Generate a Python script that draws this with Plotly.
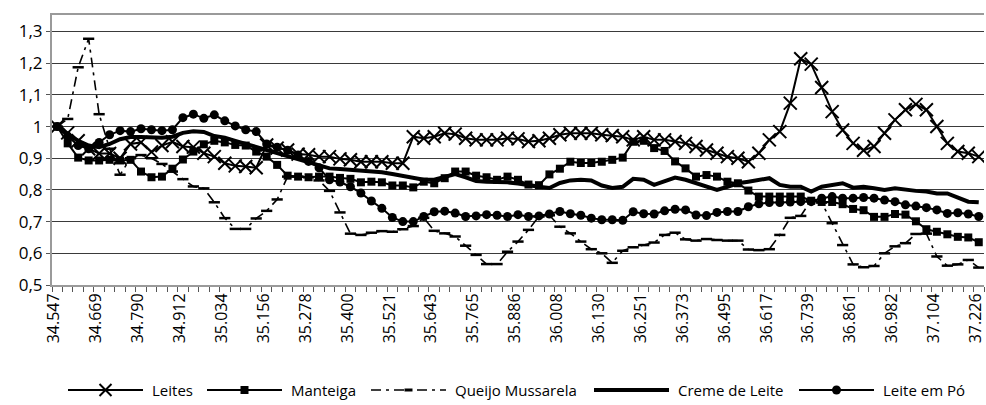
import plotly.graph_objects as go

tick_labels = ["34.547", "34.669", "34.790", "34.912", "35.034", "35.156", "35.278", "35.400",
               "35.521", "35.643", "35.765", "35.886", "36.008", "36.130", "36.251", "36.373",
               "36.495", "36.617", "36.739", "36.861", "36.982", "37.104", "37.226"]

leites = [1.000, 0.980, 0.955, 0.930, 0.915, 0.915, 0.900, 0.945, 0.950, 0.920,
          0.940, 0.952, 0.937, 0.935, 0.916, 0.905, 0.884, 0.876, 0.874, 0.870,
          0.942, 0.932, 0.926, 0.913, 0.911, 0.905, 0.905, 0.898, 0.895, 0.889,
          0.889, 0.889, 0.884, 0.884, 0.968, 0.963, 0.968, 0.979, 0.976, 0.963,
          0.958, 0.958, 0.958, 0.963, 0.961, 0.953, 0.955, 0.963, 0.974, 0.979,
          0.979, 0.979, 0.974, 0.972, 0.968, 0.958, 0.968, 0.958, 0.958, 0.953,
          0.947, 0.937, 0.926, 0.916, 0.905, 0.900, 0.889, 0.916, 0.958, 0.984,
          1.074, 1.214, 1.197, 1.123, 1.047, 0.989, 0.947, 0.925, 0.937, 0.979,
          1.021, 1.053, 1.070, 1.053, 1.000, 0.947, 0.921, 0.916, 0.905]

manteiga = [1.000, 0.947, 0.902, 0.893, 0.893, 0.895, 0.893, 0.895, 0.858, 0.840,
            0.842, 0.867, 0.896, 0.921, 0.944, 0.955, 0.950, 0.942, 0.940, 0.921,
            0.905, 0.879, 0.845, 0.842, 0.840, 0.842, 0.842, 0.838, 0.835, 0.824,
            0.826, 0.824, 0.814, 0.814, 0.808, 0.826, 0.821, 0.837, 0.858, 0.858,
            0.845, 0.840, 0.832, 0.842, 0.832, 0.817, 0.815, 0.849, 0.867, 0.889,
            0.885, 0.885, 0.889, 0.895, 0.902, 0.952, 0.955, 0.932, 0.923, 0.890,
            0.868, 0.842, 0.847, 0.842, 0.826, 0.821, 0.798, 0.779, 0.779, 0.779,
            0.779, 0.779, 0.766, 0.762, 0.762, 0.755, 0.740, 0.736, 0.715, 0.715,
            0.724, 0.722, 0.701, 0.676, 0.668, 0.660, 0.652, 0.650, 0.635]

queijo = [1.000, 1.024, 1.187, 1.277, 1.039, 0.930, 0.848, 0.900, 0.910, 0.900,
          0.882, 0.858, 0.834, 0.811, 0.805, 0.761, 0.711, 0.677, 0.677, 0.710,
          0.734, 0.770, 0.842, 0.842, 0.840, 0.830, 0.797, 0.729, 0.662, 0.658,
          0.665, 0.670, 0.668, 0.676, 0.686, 0.712, 0.671, 0.663, 0.653, 0.624,
          0.595, 0.566, 0.566, 0.605, 0.637, 0.674, 0.716, 0.720, 0.684, 0.663,
          0.637, 0.613, 0.600, 0.570, 0.608, 0.619, 0.626, 0.634, 0.658, 0.665,
          0.644, 0.640, 0.645, 0.642, 0.640, 0.640, 0.612, 0.610, 0.613, 0.658,
          0.712, 0.718, 0.768, 0.760, 0.695, 0.626, 0.565, 0.556, 0.560, 0.600,
          0.622, 0.632, 0.661, 0.662, 0.590, 0.561, 0.565, 0.579, 0.555]

creme = [1.000, 0.975, 0.955, 0.940, 0.935, 0.945, 0.960, 0.967, 0.967, 0.965,
         0.965, 0.968, 0.980, 0.985, 0.983, 0.970, 0.965, 0.955, 0.945, 0.935,
         0.925, 0.915, 0.905, 0.895, 0.885, 0.875, 0.868, 0.866, 0.864, 0.862,
         0.860, 0.856, 0.850, 0.845, 0.838, 0.832, 0.832, 0.842, 0.850, 0.840,
         0.828, 0.826, 0.826, 0.824, 0.820, 0.814, 0.810, 0.806, 0.822, 0.830,
         0.832, 0.830, 0.814, 0.806, 0.810, 0.835, 0.832, 0.816, 0.826, 0.839,
         0.832, 0.821, 0.810, 0.800, 0.810, 0.821, 0.826, 0.832, 0.837, 0.816,
         0.810, 0.810, 0.795, 0.810, 0.816, 0.821, 0.807, 0.810, 0.805, 0.800,
         0.805, 0.800, 0.797, 0.795, 0.789, 0.789, 0.776, 0.763, 0.761]

leite_po = [1.000, 0.970, 0.940, 0.930, 0.950, 0.974, 0.987, 0.984, 0.993, 0.990,
            0.987, 0.990, 1.028, 1.039, 1.026, 1.037, 1.018, 1.002, 0.990, 0.984,
            0.945, 0.935, 0.925, 0.910, 0.890, 0.870, 0.832, 0.825, 0.810, 0.790,
            0.765, 0.742, 0.713, 0.700, 0.700, 0.716, 0.731, 0.733, 0.727, 0.716,
            0.718, 0.722, 0.720, 0.716, 0.722, 0.716, 0.718, 0.724, 0.732, 0.725,
            0.720, 0.711, 0.706, 0.706, 0.704, 0.731, 0.725, 0.724, 0.734, 0.739,
            0.737, 0.721, 0.719, 0.729, 0.732, 0.732, 0.747, 0.756, 0.760, 0.760,
            0.762, 0.763, 0.763, 0.774, 0.779, 0.774, 0.774, 0.776, 0.774, 0.768,
            0.763, 0.753, 0.749, 0.744, 0.737, 0.726, 0.728, 0.724, 0.716]

y_ticks = [0.5, 0.6, 0.7, 0.8, 0.9, 1.0, 1.1, 1.2, 1.3]
y_tick_text = ["0,5", "0,6", "0,7", "0,8", "0,9", "1", "1,1", "1,2", "1,3"]

series_names = ["Leites", "Manteiga", "Queijo Mussarela", "Creme de Leite", "Leite em Pó"]

W, H = 986, 405
ML, MR, MT, MB = 52, 2, 15, 120
PW = W - ML - MR
PH = H - MT - MB

n = len(leites)
x = list(range(n))
label_pos = list(range(0, n, 4))

fig = go.Figure()
fig.add_trace(go.Scatter(x=x, y=queijo, name="Queijo Mussarela", mode="lines+markers",
                         line=dict(color="black", width=1.6, dash="10px,5px,3px,5px"),
                         marker=dict(symbol="line-ew-open", size=8, line=dict(color="black", width=2.5))))
fig.add_trace(go.Scatter(x=x, y=creme, name="Creme de Leite", mode="lines",
                         line=dict(color="black", width=4)))
fig.add_trace(go.Scatter(x=x, y=leite_po, name="Leite em Pó", mode="lines+markers",
                         line=dict(color="black", width=2),
                         marker=dict(symbol="circle", size=9, color="black")))
fig.add_trace(go.Scatter(x=x, y=manteiga, name="Manteiga", mode="lines+markers",
                         line=dict(color="black", width=2),
                         marker=dict(symbol="square", size=8, color="black")))
fig.add_trace(go.Scatter(x=x, y=leites, name="Leites", mode="lines+markers",
                         line=dict(color="black", width=2),
                         marker=dict(symbol="x-thin-open", size=13, line=dict(color="black", width=2))))

# ---- custom legend (wide line samples as in the original) ----
def px2paper_x(px):
    return (px - ML) / PW

def py2paper_y(py):
    return (H - MB - py) / PH

leg_y_px = 390
leg_line_start = [68, 207, 371, 594, 799]   # legend sample positions (layout)
leg_line_len = 75
leg_text_gap = 7
ly = py2paper_y(leg_y_px)
shapes = []
annotations = []
for k, name in enumerate(series_names):
    x0 = leg_line_start[k]
    x1 = x0 + leg_line_len
    xc = px2paper_x((x0 + x1) / 2)
    if name == "Queijo Mussarela":
        ln = dict(color="black", width=1.6, dash="10px,5px,3px,5px")
    elif name == "Creme de Leite":
        ln = dict(color="black", width=4)
    else:
        ln = dict(color="black", width=2)
    shapes.append(dict(type="line", xref="paper", yref="paper",
                       x0=px2paper_x(x0), x1=px2paper_x(x1), y0=ly, y1=ly, line=ln))
    common = dict(xref="paper", yref="paper", xsizemode="pixel", ysizemode="pixel",
                  xanchor=xc, yanchor=ly)
    if name == "Leites":
        shapes.append(dict(type="line", x0=-6, x1=6, y0=-6, y1=6,
                           line=dict(color="black", width=2), **common))
        shapes.append(dict(type="line", x0=-6, x1=6, y0=6, y1=-6,
                           line=dict(color="black", width=2), **common))
    elif name == "Manteiga":
        shapes.append(dict(type="rect", x0=-4, x1=4, y0=-4, y1=4, fillcolor="black",
                           line=dict(color="black", width=0), **common))
    elif name == "Queijo Mussarela":
        shapes.append(dict(type="line", x0=-4, x1=4, y0=0, y1=0,
                           line=dict(color="black", width=3), **common))
    elif name == "Leite em Pó":
        shapes.append(dict(type="circle", x0=-4.5, x1=4.5, y0=-4.5, y1=4.5, fillcolor="black",
                           line=dict(color="black", width=0), **common))
    annotations.append(dict(xref="paper", yref="paper", x=px2paper_x(x1 + leg_text_gap), y=ly,
                            xanchor="left", yanchor="middle", showarrow=False, text=name,
                            font=dict(family="Open Sans", size=15, color="black")))

fig.update_layout(
    width=W, height=H,
    margin=dict(l=ML, r=MR, t=MT, b=MB, autoexpand=False),
    paper_bgcolor="white", plot_bgcolor="white",
    font=dict(family="Open Sans", color="black"),
    showlegend=False,
    shapes=shapes,
    annotations=annotations,
)

fig.update_xaxes(
    range=[-0.5, n - 0.5], automargin=False,
    tickmode="array", tickvals=label_pos, ticktext=tick_labels,
    tickangle=-90, ticks="", tickfont=dict(size=16, family="Open Sans"),
    ticklabeloverflow="allow", ticklabelshift=-3,
    showgrid=False, zeroline=False,
    showline=True, linecolor="#9a9a9a", linewidth=2, mirror=True,
    minor=dict(ticks="outside", tick0=-0.5, dtick=1, ticklen=5, tickcolor="#555555",
               tickwidth=1, showgrid=False),
)
fig.update_yaxes(
    range=[0.5, 1.352], automargin=False,
    tickmode="array", tickvals=y_ticks, ticktext=y_tick_text,
    ticks="outside", ticklen=4, tickcolor="#555555",
    tickfont=dict(size=17, family="Open Sans"),
    showgrid=True, gridcolor="#3a3a3a", gridwidth=1, zeroline=False,
    showline=True, linecolor="#9a9a9a", linewidth=2,
)

fig.write_html("out.html", config={"displayModeBar": False},
               post_script="document.body.style.margin='0px';document.body.style.padding='0px';")
